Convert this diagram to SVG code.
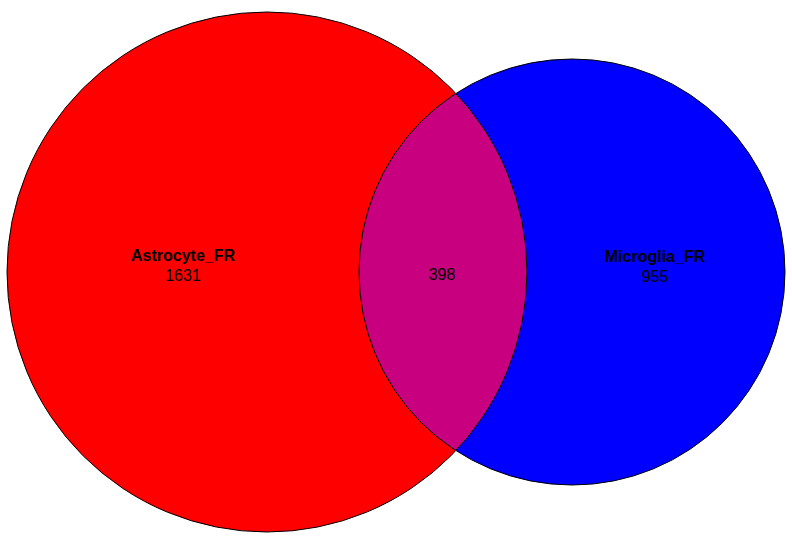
<svg xmlns="http://www.w3.org/2000/svg" width="792" height="546" viewBox="0 0 792 546">
<style>
.outline{fill:none;stroke:#000;stroke-width:1}
.lbl{font-family:"Liberation Sans",Arial,sans-serif;font-size:16px;font-weight:bold;text-anchor:middle;fill:#000}
.num{font-family:"Liberation Sans",Arial,sans-serif;font-size:16px;text-anchor:middle;fill:#000}
</style>
<rect width="792" height="546" fill="#fff"/>
<g id="astrocyte">
<circle cx="267" cy="272" r="260" fill="#ff0000"/>
</g>
<g id="microglia">
<circle cx="572" cy="272" r="213" fill="#0000ff"/>
</g>
<g id="overlap">
<path d="M455.9,93.4 A213,213 0 0 0 455.9,450.6 A260,260 0 0 0 455.9,93.4 Z" fill="#c8007f"/>
</g>
<g id="connectors">
<circle class="outline" cx="267" cy="272" r="260"/>
<circle class="outline" cx="572" cy="272" r="213"/>
</g>
<g id="labels">
<text class="lbl" x="183" y="261">Astrocyte_FR</text>
<text class="num" x="183" y="281">1631</text>
<text class="num" x="442" y="280">398</text>
<text class="lbl" x="655" y="262">Microglia_FR</text>
<text class="num" x="655" y="282">955</text>
</g>
</svg>
